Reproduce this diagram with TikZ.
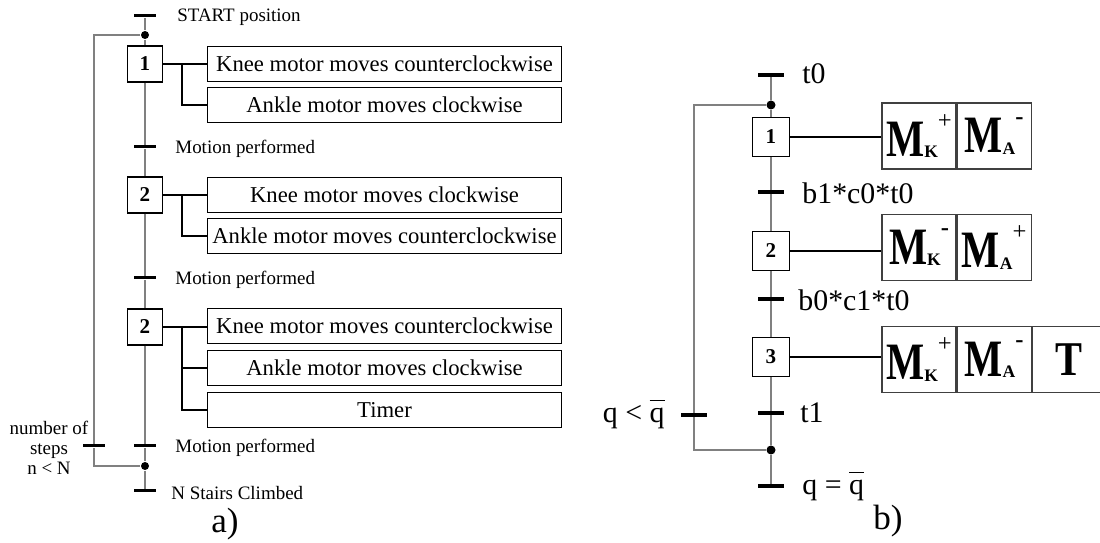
\documentclass[tikz,border=0pt]{standalone}
\usepackage{fontspec}
\usepackage{graphicx}
\setmainfont{Liberation Serif}
\usetikzlibrary{positioning}

\tikzset{
    stepbox/.style={draw, rectangle, inner sep=0pt, minimum width=0.7cm, minimum height=0.72cm, font=\fontsize{12}{13}\selectfont\bfseries},
    bigstep/.style={stepbox, minimum width=0.74cm, minimum height=0.78cm, font=\fontsize{12}{13}\selectfont\bfseries},
    trans/.style={fill=black, rectangle, inner sep=0pt, minimum width=0.46cm, minimum height=0.06cm},
    bigtrans/.style={trans, minimum width=0.52cm, minimum height=0.07cm},
    junction/.style={fill=black, circle, inner sep=0pt, minimum size=0.16cm},
    action/.style={draw, rectangle, inner sep=0pt, minimum width=7.1cm, minimum height=0.7cm, font=\fontsize{12.9}{14}\selectfont},
    cell/.style={draw=black!75, rectangle, inner sep=0pt, minimum width=1.48cm, minimum height=1.32cm, font=\fontsize{23}{24}\selectfont\bfseries},
    small/.style={font=\fontsize{10.8}{11.3}\selectfont},
    big/.style={font=\fontsize{17}{19}\selectfont},
    flow/.style={draw=gray, line width=0.6pt},
}
\newcommand{\mot}[2]{\scalebox{1}[1.3]{M}\raisebox{-1pt}{\fontsize{10}{10}\selectfont #1}\raisebox{16pt}{\fontsize{14}{14}\selectfont #2}}

\begin{document}
\begin{tikzpicture}[x=0.02cm, y=-0.02cm, line width=0.6pt]
    \useasboundingbox (0,0) rectangle (1100,543);
    % sequence a)
    \node[trans] (ta0) at (145,16) {};
    \node[junction] (ja1) at (145,35) {};
    \node[stepbox] (sa1) at (145,64) {1};
    \node[trans] (ta1) at (145,147) {};
    \node[stepbox] (sa2) at (145,195) {2};
    \node[trans] (ta2) at (145,278) {};
    \node[stepbox] (sa3) at (145,327) {2};
    \node[trans] (ta3) at (145,446) {};
    \node[junction] (ja2) at (145,466) {};
    \node[trans] (ta4) at (145,491) {};
    \node[trans] (tan) at (94,446) {};
    \node[small, anchor=west] (la0) at (171,17) {START position};
    \node[small, anchor=west] (la1) at (169,149) {Motion performed};
    \node[small, anchor=west] (la2) at (169,280) {Motion performed};
    \node[small, anchor=west] (la3) at (169,448) {Motion performed};
    \node[small, anchor=west] (la4) at (165,493) {N Stairs Climbed};
    \node[small, align=center] (lan) at (49,448) {number of\\steps\\n < N};
    \node[action] (a11) at (384.5,64) {Knee motor moves counterclockwise};
    \node[action] (a12) at (384.5,105) {Ankle motor moves clockwise};
    \node[action] (a21) at (384.5,195) {Knee motor moves clockwise};
    \node[action] (a22) at (384.5,236) {Ankle motor moves counterclockwise};
    \node[action] (a31) at (384.5,326) {Knee motor moves counterclockwise};
    \node[action] (a32) at (384.5,368) {Ankle motor moves clockwise};
    \node[action] (a33) at (384.5,410) {Timer};
    \coordinate (ba1) at (182,64);
    \coordinate (ba2) at (182,195);
    \coordinate (ba3) at (182,327);
    \draw[flow] (ta0) -- (ja1) -- (sa1) -- (ta1) -- (sa2) -- (ta2) -- (sa3) -- (ta3) -- (ja2) -- (ta4);
    \draw[flow] (ja1) -| (tan) |- (ja2);
    \draw (sa1) -- (sa1 -| a11.west);
    \draw (ba1) |- (a12);
    \draw (sa2) -- (sa2 -| a21.west);
    \draw (ba2) |- (a22);
    \draw (sa3) -- (sa3 -| a31.west);
    \draw (ba3) |- (a32);
    \draw (ba3) |- (a33);
    \node[font=\fontsize{20}{22}\selectfont] (capa) at (225,524) {a)};
    % sequence b)
    \node[bigtrans] (tb0) at (771,75) {};
    \node[junction, minimum size=0.18cm] (jb1) at (771,105) {};
    \node[bigstep] (sb1) at (771,137) {1};
    \node[bigtrans] (tb1) at (771,192) {};
    \node[bigstep] (sb2) at (771,251) {2};
    \node[bigtrans] (tb2) at (771,299) {};
    \node[bigstep] (sb3) at (771,357) {3};
    \node[bigtrans] (tb3) at (771,413) {};
    \node[junction, minimum size=0.18cm] (jb2) at (771,450) {};
    \node[bigtrans] (tb4) at (771,486) {};
    \node[bigtrans] (tbq) at (694,415) {};
    \node[big, anchor=west] (lb0) at (796,74) {t0};
    \node[big, anchor=west] (lb1) at (796,193) {b1*c0*t0};
    \node[big, anchor=west] (lb2) at (792,300) {b0*c1*t0};
    \node[big, anchor=west] (lb3) at (794,413) {t1};
    \node[big, anchor=west] (lb4) at (796,486) {q = $\overline{\mbox{q\vphantom{T}}}$};
    \node[big, anchor=east] (lbq) at (671,414) {q < $\overline{\mbox{q\vphantom{T}}}$};
    \node[cell] (c11) at (919,136) {\mot{K}{\mdseries +}};
    \node[cell, right=0pt of c11] (c12) {\mot{A}{-}};
    \node[cell] (c21) at (919,247.5) {\mot{K}{-}};
    \node[cell, right=0pt of c21] (c22) {\mot{A}{\mdseries +}};
    \node[cell] (c31) at (919,359.5) {\mot{K}{\mdseries +}};
    \node[cell, right=0pt of c31] (c32) {\mot{A}{-}};
    \node[cell, right=0pt of c32] (c33) {\scalebox{1}[1.2]{T}};
    \draw[flow] (tb0) -- (jb1) -- (sb1) -- (tb1) -- (sb2) -- (tb2) -- (sb3) -- (tb3) -- (jb2) -- (tb4);
    \draw[flow] (jb1) -| (tbq) |- (jb2);
    \draw (sb1) -- (sb1 -| c11.west);
    \draw (sb2) -- (sb2 -| c21.west);
    \draw (sb3) -- (sb3 -| c31.west);
    \node[font=\fontsize{20}{22}\selectfont] (capb) at (888,521) {b)};
\end{tikzpicture}
\end{document}
